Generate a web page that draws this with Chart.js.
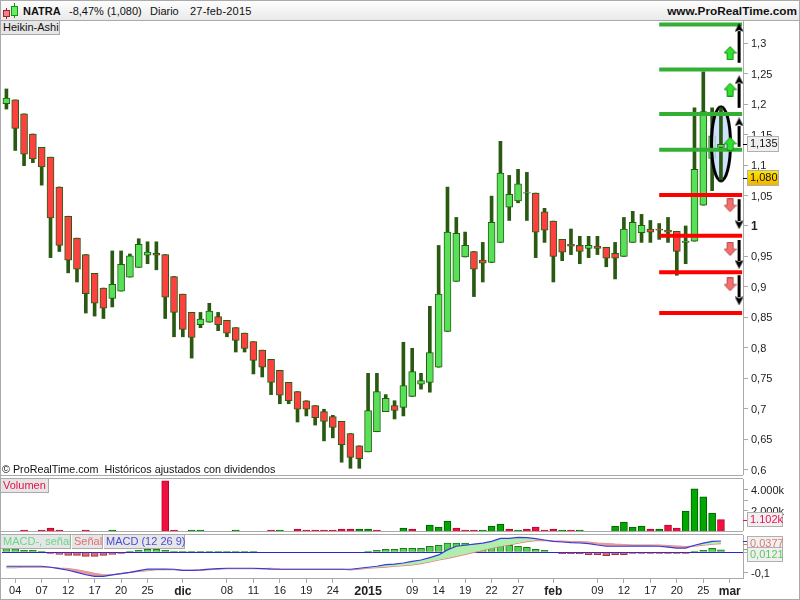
<!DOCTYPE html>
<html>
<head>
<meta charset="utf-8">
<title>NATRA</title>
<script src="https://cdn.jsdelivr.net/npm/chart.js@4"></script>
<style>
    html, body { margin: 0; padding: 0; background: #fff; }
    body { width: 800px; height: 600px; position: relative; overflow: hidden; font: 11px "Liberation Sans", Arial, sans-serif; color: #111; }
    canvas { position: absolute; left: 0; }
    .rule { position: absolute; background: #aaa; }
    .txt { position: absolute; white-space: pre; line-height: 14px; }
    .box { position: absolute; box-sizing: border-box; background: #e6e6e6; border-right: 1px solid #aaa; border-bottom: 1px solid #aaa; line-height: 13px; padding-left: 2px; white-space: pre; }
    .tag { position: absolute; box-sizing: border-box; left: 747px; border: 1px solid #b0b0b0; background: #f0f0f0; line-height: 13px; padding-left: 2px; white-space: pre; }
    .tick { position: absolute; left: 743px; width: 4px; height: 1px; }
    #header { position: absolute; left: 0; top: 0; width: 800px; height: 20px; background: linear-gradient(#fff, #e9e9e9); }
</style>
</head>
<body>
<div id="header"></div>
<svg style="position:absolute;left:0;top:0" width="20" height="20">
    <path d="M6.5 8V19" stroke="#a02030"/><rect x="3.5" y="10.5" width="6" height="6" fill="#f08090" stroke="#a02030"/>
    <path d="M14.5 3V18" stroke="#189018"/><rect x="11.5" y="6.5" width="6" height="9" fill="#66ee66" stroke="#189018"/>
</svg>
<div class="txt" style="left:23px;top:4px;font-weight:bold">NATRA</div>
<div class="txt" style="left:69px;top:4px">-8,47% (1,080)</div>
<div class="txt" style="left:150px;top:4px">Diario</div>
<div class="txt" style="left:190px;top:4px;letter-spacing:0.2px">27-feb-2015</div>
<div class="txt" style="right:3px;top:4px;font-weight:bold;font-size:11.8px">www.ProRealTime.com</div>

<canvas id="price-chart" width="800" height="454" style="top:21px"></canvas>
<canvas id="volume-chart" width="800" height="52" style="top:479px"></canvas>
<canvas id="macd-chart" width="800" height="64" style="top:535px"></canvas>

<div class="rule" style="left:0;top:0;width:800px;height:1px"></div>
<div class="rule" style="left:0;top:20px;width:800px;height:1px"></div>
<div class="rule" style="left:0;top:0;width:1px;height:600px"></div>
<div class="rule" style="left:799px;top:0;width:1px;height:600px"></div>
<div class="rule" style="left:0;top:599px;width:800px;height:1px"></div>
<div class="rule" style="left:0;top:475px;width:743px;height:1px"></div>
<div class="rule" style="left:0;top:478px;width:743px;height:1px"></div>
<div class="rule" style="left:0;top:531px;width:743px;height:1px"></div>
<div class="rule" style="left:0;top:534px;width:743px;height:1px"></div>
<div class="rule" style="left:0;top:578px;width:743px;height:1px"></div>

<div class="box" style="left:1px;top:21px;width:59px;height:14px">Heikin-Ashi</div>
<div class="txt" style="left:2px;top:462px;font-size:10.75px">© ProRealTime.com  Históricos ajustados con dividendos</div>
<div class="box" style="left:1px;top:479px;width:48px;height:14px;color:#e8104a">Volumen</div>
<div class="box" style="left:1px;top:535px;width:70px;height:14px;color:#66d888">MACD-, señal</div>
<div class="box" style="left:72px;top:535px;width:31px;height:14px;color:#e07070">Señal</div>
<div class="box" style="left:104px;top:535px;width:81px;height:14px;color:#4a4ad8">MACD (12 26 9)</div>

<div class="tick" style="top:144px;background:#000"></div>
<div class="tag" style="top:136px;width:32px;height:16px">1,135</div>
<div class="tick" style="top:178px;background:#000"></div>
<div class="tag" style="top:170px;width:32px;height:16px;background:linear-gradient(#ffe400,#f0b400)">1,080</div>
<div class="tick" style="top:520px;background:#e8104a"></div>
<div class="tag" style="top:512px;width:36px;height:15px;color:#ee1155">1.102k</div>
<div class="tick" style="top:541px;background:#3030d0"></div>
<div class="tick" style="top:544px;background:#e07070"></div>
<div class="tick" style="top:549px;background:#55c055"></div>
<div class="tag" style="top:536px;width:36px;height:14px;color:#e07878">0,0377</div>
<div class="tag" style="top:547px;width:36px;height:15px;color:#60c860">0,0121</div>

<script>
// Heikin-Ashi candles, one entry per trading day from 3 Nov 2014 to 27 Feb 2015
const candleOpen = [
    1.201, 1.207, 1.184, 1.151, 1.129, 1.113, 1.064, 1.016, 0.980, 0.953,
    0.922, 0.898, 0.881, 0.893, 0.916, 0.932, 0.952, 0.955, 0.953, 0.917,
    0.888, 0.858, 0.838, 0.842, 0.851, 0.845, 0.833, 0.824, 0.810, 0.796,
    0.781, 0.763, 0.743, 0.728, 0.713, 0.705, 0.695, 0.687, 0.679, 0.659,
    0.639, 0.629, 0.662, 0.695, 0.705, 0.702, 0.720, 0.740, 0.743, 0.768,
    0.827, 0.909, 0.949, 0.958, 0.944, 0.940, 0.973, 1.031, 1.041, 1.054,
    1.054, 1.023, 1.008, 0.978, 0.970, 0.968, 0.963, 0.967, 0.965, 0.955,
    0.950, 0.973, 0.989, 0.995, 0.995, 0.993, 0.991, 0.973, 0.975, 1.034,
    1.111, 1.129
];
const candleHigh = [
    1.225, 1.207, 1.184, 1.151, 1.129, 1.113, 1.064, 1.016, 0.980, 0.953,
    0.922, 0.898, 0.959, 0.959, 0.954, 0.979, 0.974, 0.974, 0.953, 0.917,
    0.888, 0.858, 0.858, 0.873, 0.858, 0.845, 0.833, 0.824, 0.810, 0.796,
    0.781, 0.763, 0.743, 0.728, 0.713, 0.705, 0.699, 0.689, 0.679, 0.659,
    0.639, 0.758, 0.758, 0.723, 0.713, 0.809, 0.799, 0.758, 0.868, 0.968,
    1.064, 1.014, 0.990, 0.958, 0.973, 1.049, 1.139, 1.083, 1.093, 1.088,
    1.054, 1.029, 1.008, 0.978, 0.995, 0.983, 0.983, 0.983, 0.965, 0.973,
    1.014, 1.024, 1.019, 1.009, 1.004, 1.014, 0.991, 1.000, 1.194, 1.253,
    1.194, 1.194
];
const candleLow = [
    1.192, 1.124, 1.099, 1.104, 1.067, 0.948, 0.958, 0.923, 0.908, 0.857,
    0.852, 0.848, 0.867, 0.893, 0.916, 0.932, 0.938, 0.928, 0.848, 0.818,
    0.818, 0.783, 0.833, 0.842, 0.828, 0.818, 0.793, 0.793, 0.757, 0.752,
    0.723, 0.708, 0.708, 0.678, 0.688, 0.673, 0.647, 0.652, 0.612, 0.602,
    0.602, 0.629, 0.662, 0.695, 0.683, 0.688, 0.720, 0.732, 0.727, 0.768,
    0.827, 0.909, 0.949, 0.884, 0.908, 0.940, 0.973, 1.009, 1.038, 1.009,
    0.948, 0.973, 0.908, 0.943, 0.953, 0.938, 0.948, 0.953, 0.933, 0.913,
    0.950, 0.973, 0.973, 0.973, 0.978, 0.973, 0.919, 0.938, 0.975, 1.034,
    1.058, 1.076
];
const candleClose = [
    1.210, 1.160, 1.118, 1.110, 1.097, 1.013, 0.968, 0.944, 0.929, 0.889,
    0.873, 0.865, 0.904, 0.937, 0.951, 0.970, 0.957, 0.952, 0.883, 0.858,
    0.830, 0.817, 0.847, 0.860, 0.838, 0.824, 0.812, 0.799, 0.779, 0.768,
    0.743, 0.722, 0.713, 0.699, 0.699, 0.685, 0.679, 0.669, 0.641, 0.620,
    0.618, 0.697, 0.728, 0.717, 0.697, 0.738, 0.761, 0.746, 0.792, 0.888,
    0.990, 0.988, 0.968, 0.929, 0.939, 1.006, 1.087, 1.052, 1.069, 1.055,
    0.990, 0.993, 0.950, 0.957, 0.967, 0.958, 0.968, 0.963, 0.947, 0.947,
    0.995, 1.006, 1.001, 0.990, 0.993, 0.990, 0.958, 0.975, 1.093, 1.188,
    1.148, 1.134
];

// volume in thousands, null where no bar is visible
const volumeValues = [
    null, null, 100, null, 100, 290, 100, null, null, 100,
    null, null, 100, null, null, null, null, null, 4880, 100,
    null, 100, 100, null, null, null, 100, null, null, null,
    100, 100, null, 195, 100, 100, 100, 100, 195, 195,
    195, 195, 100, null, null, 290, 195, null, 585, 390,
    975, 290, 100, 100, 100, 490, 680, 195, 100, 195,
    390, 100, 195, 100, 100, 100, null, null, null, 490,
    880, 390, 490, 195, 195, 585, 290, 1950, 4100, 3320,
    1755, 1102
];
const volumeRedDays = [2, 4, 5, 6, 9, 18, 19, 30, 33, 34, 35, 36, 37, 38, 39, 42, 46, 51, 52, 53, 57, 59, 60, 61, 62, 64, 73, 75, 76, 81];

const macdLine = [
    -0.069, -0.069, -0.069, -0.069, -0.069, -0.074, -0.081, -0.089, -0.099, -0.111,
    -0.119, -0.119, -0.112, -0.106, -0.099, -0.091, -0.083, -0.083, -0.083, -0.084,
    -0.089, -0.089, -0.087, -0.083, -0.081, -0.079, -0.079, -0.079, -0.079, -0.081,
    -0.083, -0.084, -0.084, -0.084, -0.084, -0.084, -0.084, -0.084, -0.084, -0.084,
    -0.079, -0.074, -0.069, -0.061, -0.059, -0.053, -0.045, -0.038, -0.026, -0.013,
    0.012, 0.030, 0.035, 0.040, 0.045, 0.054, 0.069, 0.069, 0.074, 0.073,
    0.068, 0.061, 0.054, 0.051, 0.048, 0.046, 0.043, 0.036, 0.030, 0.030,
    0.030, 0.031, 0.031, 0.031, 0.030, 0.026, 0.021, 0.021, 0.035, 0.045,
    0.054, 0.056
];
const signalLine = [
    -0.076, -0.076, -0.074, -0.074, -0.074, -0.074, -0.078, -0.081, -0.087, -0.096,
    -0.104, -0.111, -0.111, -0.106, -0.099, -0.094, -0.091, -0.086, -0.086, -0.086,
    -0.089, -0.089, -0.089, -0.086, -0.084, -0.081, -0.081, -0.081, -0.081, -0.081,
    -0.079, -0.083, -0.084, -0.084, -0.084, -0.084, -0.084, -0.084, -0.084, -0.087,
    -0.083, -0.079, -0.076, -0.073, -0.069, -0.066, -0.063, -0.056, -0.048, -0.038,
    -0.030, -0.020, -0.010, 0.000, 0.010, 0.020, 0.030, 0.036, 0.045, 0.053,
    0.058, 0.058, 0.056, 0.056, 0.053, 0.053, 0.050, 0.046, 0.043, 0.040,
    0.038, 0.036, 0.035, 0.035, 0.035, 0.033, 0.031, 0.028, 0.031, 0.035,
    0.040, 0.043
];
const macdHistogram = [
    0.018, 0.017, 0.010, 0.010, 0.005, -0.005, -0.010, -0.015, -0.015, -0.020,
    -0.020, -0.015, -0.010, -0.005, 0.005, 0.010, 0.015, 0.015, 0.010, 0.005,
    0.005, 0.005, 0.005, 0.005, 0.005, 0.005, 0.005, 0.005, 0.005, null,
    null, null, null, null, null, null, null, null, null, null,
    null, 0.005, 0.010, 0.015, 0.015, 0.020, 0.020, 0.020, 0.030, 0.035,
    0.045, 0.045, 0.045, 0.040, 0.036, 0.035, 0.040, 0.035, 0.030, 0.025,
    0.015, 0.010, null, -0.007, -0.007, -0.007, -0.012, -0.012, -0.017, -0.012,
    -0.012, -0.005, -0.005, -0.005, -0.005, -0.005, -0.005, -0.005, 0.005, 0.010,
    0.020, 0.012
];

// axis ticks
const priceTicks = [1.3, 1.25, 1.2, 1.15, 1.1, 1.05, 1, 0.95, 0.9, 0.85, 0.8, 0.75, 0.7, 0.65, 0.6];
const volumeTicks = [4000, 3000, 2000];
const macdTicks = [0, -0.1];
const dateTickDays = [1, 4, 7, 10, 13, 16, 20, 25, 28, 31, 34, 37, 41, 46, 49, 52, 55, 58, 62, 67, 70, 73, 76, 79, 82];
const dateTickLabels = ['04', '07', '12', '17', '20', '25', 'dic', '08', '11', '16', '19', '24', '2015', '09', '14', '19', '22', '27', 'feb', '09', '12', '17', '20', '25', 'mar'];

// drawn levels and arrows on the last days
const greenLevels = [1.331, 1.257, 1.184, 1.125];
const redLevels = [1.051, 0.984, 0.924, 0.857];
const upShafts = [[1.268, 1.320], [1.194, 1.234], [1.130, 1.164]];
const upHeads = [1.326, 1.240, 1.171];
const downShafts = [[1.044, 1.008], [0.977, 0.942], [0.919, 0.883]];
const downHeads = [1.002, 0.937, 0.877];
const blockUps = [1.284, 1.224, 1.135];
const blockDowns = [1.034, 0.962, 0.904];

const xMin = -0.5, xMax = 83.5;
const axisGrey = '#aaa';
const labelFont = { family: '"Liberation Sans", Arial, sans-serif', size: 11 };
const boldFont = { family: labelFont.family, size: 12, weight: 'bold' };

// small canvases used as point styles
function makeIcon(w, h, draw) {
    const c = document.createElement('canvas');
    c.width = w;
    c.height = h;
    draw(c.getContext('2d'));
    return c;
}

function blockArrow(fill, stroke, down) {
    return makeIcon(13, 14, ctx => {
        if (down) { ctx.translate(0, 14); ctx.scale(1, -1); }
        ctx.beginPath();
        ctx.moveTo(6.5, 0.5);
        ctx.lineTo(12.5, 7);
        ctx.lineTo(9.5, 7);
        ctx.lineTo(9.5, 13.5);
        ctx.lineTo(3.5, 13.5);
        ctx.lineTo(3.5, 7);
        ctx.lineTo(0.5, 7);
        ctx.closePath();
        ctx.fillStyle = fill;
        ctx.fill();
        ctx.strokeStyle = stroke;
        ctx.stroke();
    });
}

function arrowHead(down) {
    return makeIcon(9, 9, ctx => {
        if (down) { ctx.translate(0, 9); ctx.scale(1, -1); }
        ctx.beginPath();
        ctx.moveTo(4.5, 0);
        ctx.lineTo(9, 9);
        ctx.lineTo(4.5, 7);
        ctx.lineTo(0, 9);
        ctx.closePath();
        ctx.fillStyle = '#000';
        ctx.fill();
    });
}

const ellipseIcon = makeIcon(24, 78, ctx => {
    ctx.beginPath();
    ctx.ellipse(12, 39, 9.5, 37, 0, 0, Math.PI * 2);
    ctx.fillStyle = 'rgba(200,220,250,0.85)';
    ctx.fill();
    ctx.lineWidth = 3;
    ctx.strokeStyle = '#000';
    ctx.stroke();
});

const days = candleOpen.map((v, i) => i);

function bodyDataset(from, to, order) {
    const idx = days.slice(from, to);
    const up = i => candleClose[i] >= candleOpen[i];
    return {
        type: 'bar',
        grouped: false,
        order: order,
        barThickness: 7,
        borderWidth: 1,
        borderSkipped: false,
        borderColor: '#22600f',
        backgroundColor: idx.map(i => up(i) ? '#58e058' : '#ff4040'),
        data: idx.map(i => ({ x: i, y: [candleOpen[i], candleClose[i]] }))
    };
}

function wickDataset(from, to, order) {
    const idx = days.slice(from, to);
    return {
        type: 'bar',
        grouped: false,
        order: order,
        barThickness: 3,
        borderWidth: 0,
        backgroundColor: '#2a5a12',
        data: idx.map(i => ({ x: i, y: [candleLow[i], candleHigh[i]] }))
    };
}

function levelDataset(value, color) {
    return {
        type: 'line',
        order: 3,
        borderColor: color,
        borderWidth: 4,
        pointRadius: 0,
        data: [{ x: 74, y: value }, { x: 83.4, y: value }]
    };
}

function shaftDataset(pair) {
    return {
        type: 'line',
        order: 2,
        borderColor: '#000',
        borderWidth: 3,
        pointRadius: 0,
        data: [{ x: 83.06, y: pair[0] }, { x: 83.06, y: pair[1] }]
    };
}

function iconDataset(x, values, icon, order) {
    return {
        type: 'scatter',
        order: order || 1,
        pointStyle: icon,
        data: values.map(v => ({ x: x, y: v }))
    };
}

function sharedOptions(yScale, xScale) {
    return {
        responsive: false,
        animation: false,
        events: [],
        layout: { autoPadding: false, padding: { left: 2, right: 0, top: 0, bottom: 0 } },
        plugins: { legend: { display: false }, tooltip: { enabled: false } },
        scales: { x: xScale, y: yScale }
    };
}

function rightAxis(min, max, tickValues, format, font, grid) {
    return {
        type: 'linear',
        position: 'right',
        offset: false,
        beginAtZero: false,
        min: min,
        max: max,
        afterBuildTicks: scale => { scale.ticks = tickValues.map(v => ({ value: v })); },
        // no room kept for the first and last label, the plot fills the panel
        afterFit: scale => { scale.width = 57; scale.paddingTop = 0; scale.paddingBottom = 0; },
        border: { color: axisGrey },
        grid: grid || { drawOnChartArea: false, tickLength: 5, color: axisGrey },
        ticks: {
            autoSkip: false,
            padding: 3,
            labelOffset: 1,
            color: '#222',
            font: font || labelFont,
            callback: format
        }
    };
}

const hiddenX = { type: 'linear', display: false, offset: false, min: xMin, max: xMax };

// Price panel
new Chart(document.getElementById('price-chart'), {
    data: {
        datasets: [
            bodyDataset(0, 81, 9),
            wickDataset(0, 81, 10),
            iconDataset(81, [1.135], ellipseIcon, 8.5),
            bodyDataset(81, 82, 7),
            wickDataset(81, 82, 8),
            ...greenLevels.map(v => levelDataset(v, '#33b033')),
            ...redLevels.map(v => levelDataset(v, '#ff0000')),
            ...upShafts.map(shaftDataset),
            ...downShafts.map(shaftDataset),
            iconDataset(83.06, upHeads, arrowHead(false)),
            iconDataset(83.06, downHeads, arrowHead(true)),
            iconDataset(82.04, blockUps, blockArrow('#33dd33', '#119911', false)),
            iconDataset(82.04, blockDowns, blockArrow('#f07070', '#c05050', true))
        ]
    },
    options: sharedOptions(
        rightAxis(0.591, 1.3366, priceTicks, v => String(v).replace('.', ','),
            ctx => ctx.tick && ctx.tick.value === 1 ? boldFont : labelFont),
        hiddenX
    )
});

// Volume panel
new Chart(document.getElementById('volume-chart'), {
    data: {
        datasets: [{
            type: 'bar',
            barThickness: 7,
            borderWidth: 1,
            borderColor: days.map(i => volumeRedDays.includes(i) ? '#c00030' : '#005c00'),
            backgroundColor: days.map(i => volumeRedDays.includes(i) ? '#f01040' : '#00a800'),
            data: days.map(i => ({ x: i, y: volumeValues[i] }))
        }]
    },
    options: sharedOptions(rightAxis(0, 5070, volumeTicks, v => v === 3000 ? '' : (v / 1000) + '.000k'), hiddenX)
});

// MACD panel
new Chart(document.getElementById('macd-chart'), {
    data: {
        datasets: [
            {
                type: 'line',
                order: 1,
                borderColor: '#3a3ad8',
                borderWidth: 1.2,
                pointRadius: 0,
                fill: { target: 1, above: '#b0eeb0', below: '#e89a9a' },
                data: days.map(i => ({ x: i, y: macdLine[i] }))
            },
            {
                type: 'line',
                order: 2,
                borderColor: '#e88080',
                borderWidth: 1.2,
                pointRadius: 0,
                data: days.map(i => ({ x: i, y: signalLine[i] }))
            },
            {
                type: 'bar',
                order: 3,
                barThickness: 7,
                borderWidth: 1,
                borderColor: days.map(i => macdHistogram[i] < 0 ? '#a83030' : '#1f7a1f'),
                backgroundColor: days.map(i => macdHistogram[i] < 0 ? '#e06868' : '#55d055'),
                data: days.map(i => ({ x: i, y: macdHistogram[i] }))
            }
        ]
    },
    options: sharedOptions(
        rightAxis(-0.1272, 0.0856, macdTicks, v => v === 0 ? '' : '-0,1', labelFont, {
            tickLength: 5,
            tickColor: axisGrey,
            color: ctx => ctx.tick.value === 0 ? '#2828d0' : 'transparent'
        }),
        {
            type: 'linear',
            offset: false,
            min: xMin,
            max: xMax,
            afterBuildTicks: scale => { scale.ticks = dateTickDays.map(v => ({ value: v })); },
            afterFit: scale => { scale.height = 21; scale.paddingLeft = 0; scale.paddingRight = 0; },
            border: { color: axisGrey },
            grid: { offset: false, drawOnChartArea: false, tickLength: 5, color: axisGrey },
            ticks: {
                autoSkip: false,
                maxRotation: 0,
                padding: 1,
                color: '#222',
                callback: (v, i) => dateTickLabels[i],
                font: ctx => {
                    const label = ctx.tick ? ctx.tick.label : '';
                    if (label === 'dic' || label === 'feb' || label === 'mar') return boldFont;
                    if (label === '2015') return { family: labelFont.family, size: 12.5, weight: 'bold' };
                    return labelFont;
                }
            }
        }
    )
});
</script>
</body>
</html>
